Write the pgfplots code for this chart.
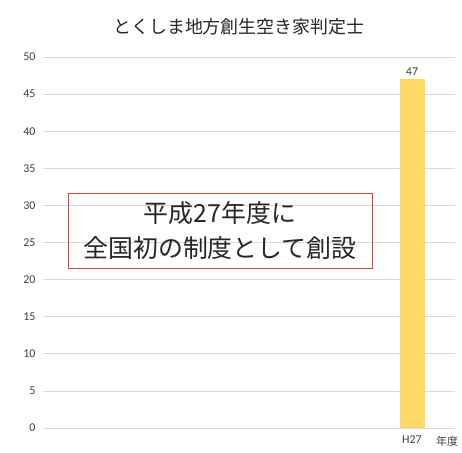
\documentclass[border=0pt]{standalone}
\usepackage{pgfplots}
\pgfplotsset{compat=1.18}
\usepackage{fontspec}
\setmainfont{Noto Sans CJK JP}
\newfontfamily\numfont{Carlito}
\definecolor{barY}{HTML}{FFD966}
\definecolor{gridG}{HTML}{D9D9D9}
\definecolor{tickG}{HTML}{404040}
\definecolor{boxR}{HTML}{E03C3C}

\begin{document}
\begin{tikzpicture}[x=1bp,y=1bp]
\begin{axis}[
  scale only axis,
  width=412bp, height=371bp,
  xmin=0, xmax=412,
  ymin=0, ymax=50,
  ytick={0,5,...,50},
  xtick={369},
  xticklabels={H27},
  axis line style={draw=none},
  major tick length=0pt,
  ymajorgrids=true,
  grid style={gridG, line width=0.8pt},
  tick label style={font=\numfont\fontsize{12}{14}\selectfont, text=tickG},
  /pgf/number format/assume math mode=true,
  yticklabel style={xshift=-4bp},
  xticklabel style={yshift=-4bp},
  clip=false,
  title={\fontsize{18}{20}\selectfont とくしま地方創生空き家判定士},
  title style={at={(0.476,1)}, yshift=12bp, text=black!85},
]
\addplot[ybar, bar width=25, fill=barY, draw=none,
  nodes near coords,
  every node near coord/.append style={font=\numfont\fontsize{12}{14}\selectfont, text=tickG}]
  coordinates {(369,47)};
\node[font=\fontsize{11}{14}\selectfont, text=tickG, anchor=north] at (axis cs:404,0) [yshift=-5bp] {年度};
\node[draw=boxR, line width=1pt, minimum width=304bp, minimum height=75bp,
  align=center, font=\fontsize{25}{35}\selectfont, text=black!85, inner sep=0pt]
  at (axis cs:177,26.6) {平成27年度に\\全国初の制度として創設};
\end{axis}
\path ([shift={(-43bp,-25bp)}]current axis.south west) rectangle ([shift={(7bp,57bp)}]current axis.north east);
\end{tikzpicture}
\end{document}
